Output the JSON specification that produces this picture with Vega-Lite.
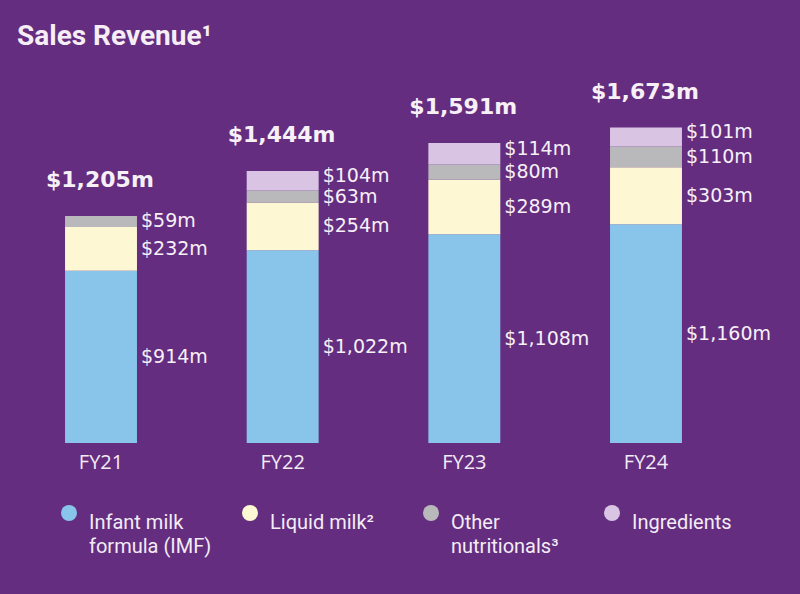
{
  "$schema": "https://vega.github.io/schema/vega-lite/v6.json",
  "width": 747,
  "height": 383,
  "autosize": {"type": "none"},
  "padding": {"left": 0, "top": 60, "right": 53, "bottom": 151},
  "background": "#642d80",
  "title": {
    "text": "Sales Revenue¹",
    "anchor": "start",
    "frame": "group",
    "font": "Roboto",
    "fontSize": 28,
    "fontWeight": "bold",
    "color": "#f6edf6",
    "dx": 17,
    "offset": 9
  },
  "config": {
    "view": {"stroke": null},
    "legend": {"padding": 0},
    "style": {"guide-label": {"lineHeight": 24}}
  },
  "datasets": {
    "segments": [
      {"year": "FY21", "series": "Infant milk formula (IMF)", "value": 914},
      {"year": "FY21", "series": "Liquid milk²", "value": 232},
      {"year": "FY21", "series": "Other nutritionals³", "value": 59},
      {"year": "FY22", "series": "Infant milk formula (IMF)", "value": 1022},
      {"year": "FY22", "series": "Liquid milk²", "value": 254},
      {"year": "FY22", "series": "Other nutritionals³", "value": 63},
      {"year": "FY22", "series": "Ingredients", "value": 104},
      {"year": "FY23", "series": "Infant milk formula (IMF)", "value": 1108},
      {"year": "FY23", "series": "Liquid milk²", "value": 289},
      {"year": "FY23", "series": "Other nutritionals³", "value": 80},
      {"year": "FY23", "series": "Ingredients", "value": 114},
      {"year": "FY24", "series": "Infant milk formula (IMF)", "value": 1160},
      {"year": "FY24", "series": "Liquid milk²", "value": 303},
      {"year": "FY24", "series": "Other nutritionals³", "value": 110},
      {"year": "FY24", "series": "Ingredients", "value": 101}
    ],
    "totals": [
      {"year": "FY21", "total": 1205, "label": "$1,205m"},
      {"year": "FY22", "total": 1444, "label": "$1,444m"},
      {"year": "FY23", "total": 1591, "label": "$1,591m"},
      {"year": "FY24", "total": 1673, "label": "$1,673m"}
    ]
  },
  "encoding": {
    "x": {
      "field": "year",
      "type": "nominal",
      "scale": {"paddingInner": 0.604, "paddingOuter": 0.358},
      "axis": {
        "title": null,
        "labelAngle": 0,
        "domain": false,
        "ticks": false,
        "labelPadding": 9,
        "labelFont": "Open Sans",
        "labelFontSize": 20,
        "labelColor": "#f3ecf5"
      }
    }
  },
  "layer": [
    {
      "data": {"name": "segments"},
      "transform": [
        {"calculate": "indexof(['Infant milk formula (IMF)', 'Liquid milk²', 'Other nutritionals³', 'Ingredients'], datum.series)", "as": "rank"},
        {"stack": "value", "groupby": ["year"], "sort": [{"field": "rank", "order": "ascending"}], "as": ["v0", "v1"]},
        {"calculate": "(datum.v0 + datum.v1) / 2", "as": "mid"},
        {"calculate": "'$' + format(datum.value, ',') + 'm'", "as": "label"}
      ],
      "layer": [
        {
          "mark": {"type": "bar"},
          "encoding": {
            "y": {"field": "v0", "type": "quantitative", "scale": {"domain": [0, 2032], "nice": false, "zero": true}, "axis": null},
            "y2": {"field": "v1"},
            "color": {
              "field": "series",
              "type": "nominal",
              "scale": {
                "domain": ["Infant milk formula (IMF)", "Liquid milk²", "Other nutritionals³", "Ingredients"],
                "range": ["#89c4ea", "#fdf7d3", "#b9b8bb", "#d9c5e3"]
              },
              "legend": {
                "title": null,
                "orient": "none",
                "legendX": 59,
                "legendY": 443,
                "direction": "horizontal",
                "columns": 4,
                "gridAlign": "all",
                "columnPadding": 28,
                "symbolType": "circle",
                "symbolSize": 256,
                "symbolStrokeWidth": 0,
                "labelOffset": 10,
                "labelFont": "Roboto",
                "labelFontSize": 20,
                "labelColor": "#f3ecf5",
                "labelBaseline": "top",
                "labelLimit": 300,
                "labelExpr": "datum.label == 'Infant milk formula (IMF)' ? ['Infant milk', 'formula (IMF)'] : datum.label == 'Other nutritionals³' ? ['Other', 'nutritionals³'] : [datum.label, ' ']"
              }
            }
          }
        },
        {
          "transform": [{"filter": "datum.series != 'Ingredients'"}],
          "mark": {"type": "text", "align": "left", "baseline": "middle", "dx": 40, "font": "DejaVu Sans", "fontSize": 19, "color": "#f7f0f7"},
          "encoding": {
            "y": {"field": "mid", "type": "quantitative"},
            "text": {"field": "label"}
          }
        },
        {
          "transform": [{"filter": "datum.series == 'Ingredients'"}],
          "mark": {"type": "text", "align": "left", "baseline": "middle", "dx": 40, "dy": -5, "font": "DejaVu Sans", "fontSize": 19, "color": "#f7f0f7"},
          "encoding": {
            "y": {"field": "mid", "type": "quantitative"},
            "text": {"field": "label"}
          }
        }
      ]
    },
    {
      "data": {"name": "totals"},
      "mark": {"type": "text", "align": "left", "baseline": "alphabetic", "dx": -55, "dy": -29, "font": "DejaVu Sans", "fontSize": 22, "fontWeight": "bold", "color": "#f7f0f7"},
      "encoding": {
        "y": {"field": "total", "type": "quantitative"},
        "text": {"field": "label"}
      }
    }
  ]
}
